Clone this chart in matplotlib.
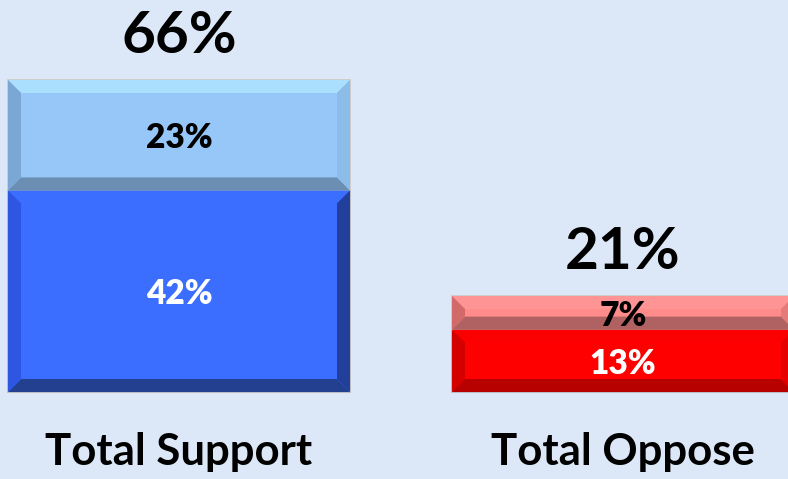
import matplotlib.pyplot as plt
from matplotlib.patches import Polygon

# values
categories = ["Total Support", "Total Oppose"]
strong = [42, 13]          # bottom segment
somewhat = [23, 7]         # top segment
totals = ["66%", "21%"]
strong_labels = ["42%", "13%"]
somewhat_labels = ["23%", "7%"]

# colours: face, top, left, right, bottom
strong_cols = [
    ["#3b6dff", "#3b6dff", "#2d57e2", "#223f9c", "#233f8f"],
    ["#fe0000", "#fb0000", "#d40000", "#e60000", "#b70000"],
]
somewhat_cols = [
    ["#96c7f8", "#aadffe", "#7aa7d3", "#8cbde9", "#6b8fb2"],
    ["#ff8b8b", "#ff9494", "#d26a6a", "#e47a7a", "#b06161"],
]
strong_txt = ["white", "white"]
somewhat_txt = ["black", "black"]

BG = "#dce8f7"
PX_X = 444.0   # pixels per x unit
PX_Y = 4.8     # pixels per percent
BEVEL = 13     # bevel size in pixels

plt.rcParams['font.family'] = ['Lato', 'DejaVu Sans']

fig = plt.figure(figsize=(7.88, 4.79), dpi=100, facecolor=BG)
ax = fig.add_axes([0, 0, 1, 1])
ax.set_facecolor(BG)
ax.set_xlim(-179 / PX_X, 1 + (788 - 623) / PX_X)
ax.set_ylim(-87 / PX_Y, (479 - 87) / PX_Y)
ax.axis("off")

x = list(range(len(categories)))
width = 342 / PX_X


def bevel(rect, cols):
    x0, y0 = rect.get_x(), rect.get_y()
    x1, y1 = x0 + rect.get_width(), y0 + rect.get_height()
    bx = BEVEL / PX_X
    by = min(BEVEL / PX_Y, rect.get_height() / 2)
    face, top, left, right, bottom = cols
    shapes = [
        ([(x0, y1), (x1, y1), (x1 - bx, y1 - by), (x0 + bx, y1 - by)], top),
        ([(x0, y0), (x1, y0), (x1 - bx, y0 + by), (x0 + bx, y0 + by)], bottom),
        ([(x0, y0), (x0 + bx, y0 + by), (x0 + bx, y1 - by), (x0, y1)], left),
        ([(x1, y0), (x1 - bx, y0 + by), (x1 - bx, y1 - by), (x1, y1)], right),
    ]
    for pts, c in shapes:
        ax.add_patch(Polygon(pts, closed=True, facecolor=c, edgecolor="none", zorder=3))


bars1 = ax.bar(x, strong, width=width, color=[c[0] for c in strong_cols],
               edgecolor="#b4b4b4", linewidth=1.2, zorder=2)
bars2 = ax.bar(x, somewhat, width=width, bottom=strong,
               color=[c[0] for c in somewhat_cols],
               edgecolor="#c8c8c8", linewidth=1.2, zorder=2)

for i in x:
    bevel(bars1[i], strong_cols[i])
    bevel(bars2[i], somewhat_cols[i])

    r = bars1[i]
    ax.text(r.get_x() + r.get_width() / 2, r.get_y() + r.get_height() / 2,
            strong_labels[i], ha="center", va="center_baseline", fontsize=24,
            fontweight="heavy", color=strong_txt[i], zorder=5)
    r = bars2[i]
    ax.text(r.get_x() + r.get_width() / 2, r.get_y() + r.get_height() / 2,
            somewhat_labels[i], ha="center", va="center_baseline", fontsize=24,
            fontweight="heavy", color=somewhat_txt[i], zorder=5)

    top = strong[i] + somewhat[i]
    ax.annotate(totals[i], (i, top), xytext=(0, 19.5), textcoords="offset points",
                ha="center", va="baseline", fontsize=42, fontweight="bold",
                color="black", annotation_clip=False)
    ax.annotate(categories[i], (i, 0), xytext=(0, -52.5), textcoords="offset points",
                ha="center", va="baseline", fontsize=31.5, fontweight="bold",
                color="black", annotation_clip=False)

fig.savefig("out.png", dpi=100, facecolor=BG)
